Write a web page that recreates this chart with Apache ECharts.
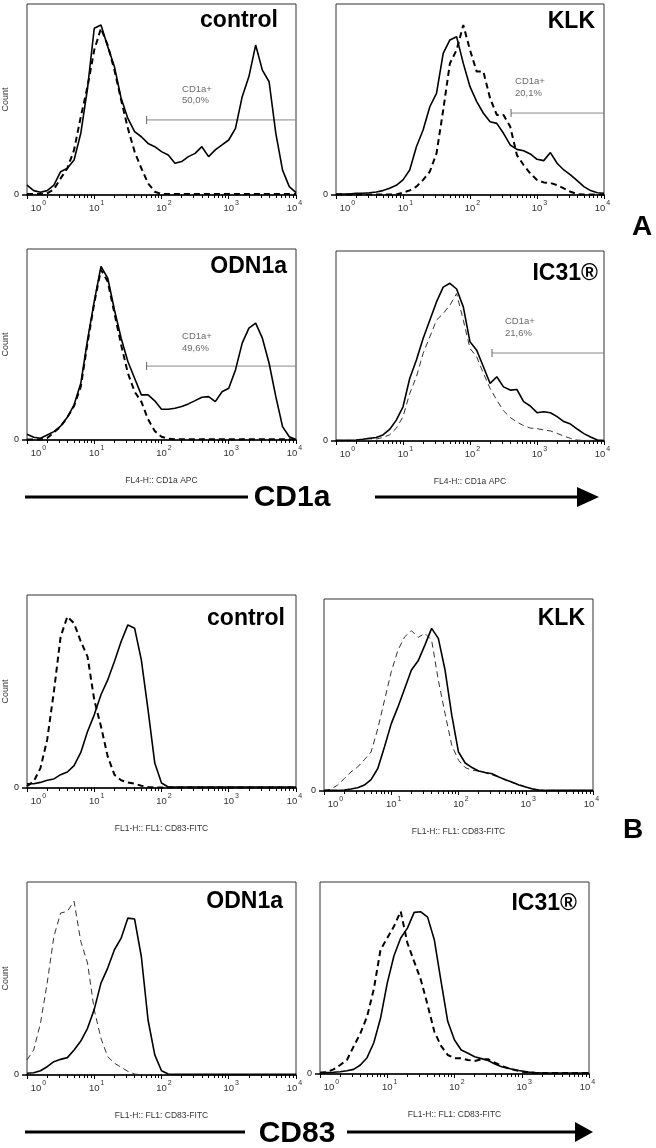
<!DOCTYPE html>
<html><head><meta charset="utf-8">
<script src="https://cdn.jsdelivr.net/npm/echarts@6/dist/echarts.min.js"></script>
<style>html,body{margin:0;padding:0;background:#fff}#c{width:656px;height:1148px}</style>
</head><body><div id="c"></div>
<script>
// ---- data ----
const X = [1, 1.259, 1.585, 1.995, 2.512, 3.162, 3.981, 5.012, 6.310, 7.943,
  10, 12.59, 15.85, 19.95, 25.12, 31.62, 39.81, 50.12, 63.10, 79.43,
  100, 125.9, 158.5, 199.5, 251.2, 316.2, 398.1, 501.2, 631.0, 794.3,
  1000, 1259, 1585, 1995, 2512, 3162, 3981, 5012, 6310, 7943, 10000];
const tickMajor = [1, 10, 100, 1000, 10000];
const tickMinor = [2,3,4,5,6,7,8,9,20,30,40,50,60,70,80,90,200,300,400,500,600,700,800,900,2000,3000,4000,5000,6000,7000,8000,9000];
const panelTitles = ['control','KLK','ODN1a','IC31®','control','KLK','ODN1a','IC31®'];

const aControlSolid = [5.2,2.3,1.4,2.3,5.2,12.2,14,18.3,32.3,55.8,87.3,89,77.7,67.2,50.6,40.1,33.2,30.5,27,25.3,22.7,20.9,16.6,17.5,20.1,21.8,25.3,20.1,23.6,26.2,28.8,34.9,51.5,62,78.5,65.4,59.3,32.3,13,4.4,1.2];
const aControlDash  = [0.5,0.5,0.5,0.9,3,8.7,14,23.6,41,56.7,75.9,87.3,78.5,65.4,49.7,34.9,22.7,14,6.1,1.7,0.5,0.5,0.5,0.5,0.5,0.5,0.5,0.5,0.5,0.5,0.5,0.5,0.5,0.5,0.5,0.5,0.5,0.5,0.5,0.5,0.5];
const aKlkSolid = [0.5,0.5,0.5,0.9,0.9,1.2,1.6,2.3,3.5,5.1,7.9,13.1,25.3,34,46.2,53.2,74.2,81.2,82.9,68.9,56.7,48.9,42.8,38.4,37.5,32.3,26.2,23.9,23.2,21.5,18.7,18,22.2,16.6,13.1,10.5,7.5,4.4,2.3,1.2,0.9];
const aKlkDash  = [0.3,0.3,0.3,0.3,0.3,0.3,0.3,0.3,0.3,0.3,1.2,2.4,4.4,7.9,12.2,21.8,44.5,68.9,75.9,89,75.9,64.6,64.6,50.6,41.9,41.9,35.8,20.9,15.7,11.3,7.9,6.6,6.3,5.2,3.5,1.7,0.5,0.3,0.3,0.3,0.3];
const aOdnSolid = [3,1.4,0.9,2.6,4.4,7.3,11.9,18.4,29.7,52.4,72.6,90.9,84.8,68.2,53.3,41.1,32.3,23.6,23.6,20.5,16.1,16.1,16.6,17.5,18.9,20.6,22.4,22.7,20.1,25.3,27.1,36.7,50.7,58.6,61.2,53.3,40.2,22.7,7,1.7,0.3];
const aOdnDash  = [0.3,0.3,0.3,1,4,7,11.9,17.8,28,50.7,71.7,89.2,83,66.4,49.8,35,25.3,20.1,10.8,4.7,1.7,0.7,0.4,0.4,0.4,0.4,0.4,0.4,0.4,0.4,0.4,0.4,0.4,0.4,0.4,0.4,0.4,0.4,0.4,0.4,0.4];
const aIcSolid = [0.4,0.4,0.4,0.5,0.9,1.4,1.8,3.2,6.1,11,18,32.9,42.6,53.9,63.6,73.2,81,83,80,70.6,52.2,47.8,39.1,30.3,33.8,28.5,26.8,27.1,20.7,18.4,14.9,15.4,14.9,12.8,10.2,8.9,6.3,3.9,2.1,0.5,0.2];
const aIcDash  = [0.3,0.3,0.3,0.3,0.3,0.3,1,1.9,3.2,6.7,12.8,25,33.8,46.1,54.8,63.6,67.1,71.5,77.6,63.6,48.7,44.3,35.6,27.7,21.5,15.9,12.4,10,8.1,6.8,6.5,5.8,5.3,4,2.6,1.4,0.5,0.3,0.3,0.3,0.3];
const bControlSolid = [2.2,2.2,2.9,4,4.7,6.9,8.3,11.6,18.4,29.3,37.9,48.3,56,65.5,75.9,84.5,82.8,66.4,40.5,12.9,2.6,0.5,0.5,0.5,0.5,0.5,0.5,0.5,0.5,0.5,0.5,0.5,0.5,0.5,0.5,0.5,0.5,0.5,0.5,0.5,0.5];
const bControlDash  = [1,3.4,10.3,25,50,78.4,88.8,85.3,75.9,68.1,45.7,31.9,16.4,6.9,4,2.9,2.2,1.2,0.5,0.3,0.3,0.3,0.3,0.3,0.3,0.3,0.3,0.3,0.3,0.3,0.3,0.3,0.3,0.3,0.3,0.3,0.3,0.3,0.3,0.3,0.3];
const bKlkSolid = [0.3,0.3,0.3,0.5,1,1.7,3.1,5.9,11.7,23,35.1,43.8,53.4,63,67.8,76,84.7,79.5,63,39.5,20.3,14.6,12.2,10.4,9.6,9,7.3,5.9,4.5,3.1,2.1,1,0.5,0.3,0.3,0.3,0.3,0.3,0.3,0.3,0.3];
const bKlkDash  = [0.3,0.9,3,6.4,9.9,12.5,16.3,20.3,32.5,47.3,62.1,73.4,80.3,83.5,80,82.1,78.6,57.7,40.3,23.8,16,12.2,10.8,10.4,9.4,8.3,7.3,5.6,4.3,3.5,2.1,1.2,0.5,0.3,0.3,0.3,0.3,0.3,0.3,0.3,0.3];
const bOdnSolid = [0.9,1.2,2.2,4.3,6.9,8.1,9,13,17.6,24.2,34,47.6,55.4,64.9,70.9,81.3,80.8,61.4,28.5,10.4,2.2,0.5,0.3,0.3,0.3,0.3,0.3,0.3,0.3,0.3,0.3,0.3,0.3,0.3,0.3,0.3,0.3,0.3,0.3,0.3,0.3];
const bOdnDash  = [7.8,13,26.8,47.6,71.8,83.9,84.8,90,69.2,58,33.7,19,9.5,6.1,4,1.9,0.5,0.2,0.2,0.2,0.2,0.2,0.2,0.2,0.2,0.2,0.2,0.2,0.2,0.2,0.2,0.2,0.2,0.2,0.2,0.2,0.2,0.2,0.2,0.2,0.2];
const bIcSolid = [0.7,0.7,0.9,1.2,1.7,2.4,4.7,8.5,16.3,29,47.3,61.6,70.8,76,84.2,84.5,81.7,69.9,48.2,27.3,17.7,12.5,10.8,9,8,7,5.2,3.8,3,2.1,1.6,1,0.7,0.5,0.5,0.5,0.5,0.5,0.5,0.5,0.5];
const bIcDash  = [0.7,1,2.4,4.7,7.3,14.3,21.2,29.9,44.2,64.7,70.8,76.9,84.7,68.2,58.6,49,36,22.1,14.6,9.9,8.2,8.2,7.3,6.8,7.7,7.7,5.9,4.2,3,2.1,1.2,0.9,0.5,0.5,0.5,0.5,0.5,0.5,0.5,0.5,0.5];

// CD1a+ gates (panels A only): start value, level (% of max), label
const gateStart = [60, 410, 60, 213];
const gateLevel = [39.3, 42.9, 38.7, 46.3];
const gateLabels = ['CD1a+\n50,0%', 'CD1a+\n20,1%', 'CD1a+\n49,6%', 'CD1a+\n21,6%'];

// ---- layout ----
const FONT = '"Liberation Sans", Arial, sans-serif';
const layout = [
  {left:27, top:4, width:269, height:191},
  {left:336, top:4, width:268, height:191},
  {left:27, top:249, width:269, height:191},
  {left:336, top:251, width:268, height:190},
  {left:27, top:595, width:269, height:193},
  {left:324, top:599, width:269, height:192},
  {left:27, top:882, width:269, height:193},
  {left:320, top:882, width:269, height:192}
];
const solids = [aControlSolid, aKlkSolid, aOdnSolid, aIcSolid, bControlSolid, bKlkSolid, bOdnSolid, bIcSolid];
const dashes = [aControlDash, aKlkDash, aOdnDash, aIcDash, bControlDash, bKlkDash, bOdnDash, bIcDash];
const dashThick = [true, true, true, false, true, false, false, true];
const showCount = [true, false, true, false, true, false, true, false];
const xNames = ['', '', 'FL4-H:: CD1a APC', 'FL4-H:: CD1a APC',
  'FL1-H:: FL1: CD83-FITC', 'FL1-H:: FL1: CD83-FITC', 'FL1-H:: FL1: CD83-FITC', 'FL1-H:: FL1: CD83-FITC'];
const gateTextPos = [[202, 52.4], [470, 56.3], [202, 51], [333, 59.7]];
const titlePos = [[278, 20.5], [595, 21.3], [287, 267], [598, 273.7], [285, 618.7], [585, 618.7], [283, 902], [577, 903.7]];

const grids = [], xAxes = [], yAxes = [], series = [];
layout.forEach((g, i) => {
  grids.push(Object.assign({show: true, borderColor: '#333', borderWidth: 1, containLabel: false, outerBoundsMode: 'none'}, g));
  xAxes.push({
    type: 'log', logBase: 10, min: 1, max: 10000, gridIndex: i, position: 'bottom',
    axisLine: {show: true, onZero: false, lineStyle: {color: '#000', width: 1.5}},
    axisTick: {show: true, customValues: tickMajor, length: 4, lineStyle: {color: '#000', width: 1}},
    splitLine: {show: false},
    axisLabel: {
      customValues: tickMajor, margin: 5, color: '#333', fontFamily: FONT,
      formatter: function (v) {
        const e = Math.round(Math.log10(v));
        const pre = e === 0 ? '{p0|}' : (e === 4 ? '' : '{p1|}');
        return pre + '{b|10}{s|' + e + '}' + (e === 4 ? '{q|}' : '');
      },
      rich: {
        b: {fontSize: 9.5, lineHeight: 13, verticalAlign: 'bottom', color: '#333', fontFamily: FONT},
        s: {fontSize: 7, lineHeight: 4, verticalAlign: 'top', color: '#333', fontFamily: FONT, padding: [0, 0, 0, 1]},
        p0: {width: 23},
        p1: {width: 5},
        q: {width: 3}
      }
    },
    name: xNames[i], nameLocation: 'middle', nameGap: 36,
    nameTextStyle: {fontSize: 8.5, color: '#333', fontFamily: FONT}
  });
  xAxes.push({
    type: 'log', logBase: 10, min: 1, max: 10000, gridIndex: i, position: 'bottom',
    axisLine: {show: false},
    axisTick: {show: true, customValues: tickMinor, length: 3, lineStyle: {color: '#000', width: 1}},
    axisLabel: {show: false}, splitLine: {show: false}
  });
  yAxes.push({
    type: 'value', min: 0, max: 100, gridIndex: i,
    axisLine: {show: false},
    axisTick: {show: true, customValues: [0], length: 5, lineStyle: {color: '#000', width: 1.5}},
    axisLabel: {customValues: [0], margin: 8, fontSize: 9, color: '#222', fontFamily: FONT},
    splitLine: {show: false},
    name: showCount[i] ? 'Count' : '', nameLocation: 'middle', nameRotate: 90, nameGap: 8,
    nameTextStyle: {fontSize: 9, color: '#333', fontFamily: FONT}
  });
  series.push({
    type: 'line', xAxisIndex: 2 * i, yAxisIndex: i, symbol: 'none', silent: true, z: 3,
    data: X.map((x, k) => [x, dashes[i][k]]),
    lineStyle: {color: dashThick[i] ? '#000' : '#333', width: dashThick[i] ? 2 : 1, type: [6, 4]}
  });
  series.push({
    type: 'line', xAxisIndex: 2 * i, yAxisIndex: i, symbol: 'none', silent: true, z: 4,
    data: X.map((x, k) => [x, solids[i][k]]),
    lineStyle: {color: '#000', width: 1.6}
  });
  if (i < 4) {
    series.push({
      type: 'line', xAxisIndex: 2 * i, yAxisIndex: i, silent: true, z: 2,
      data: [
        {value: [gateStart[i], gateLevel[i]], symbol: 'rect', symbolSize: [1, 8]},
        {value: [10000, gateLevel[i]], symbol: 'none'}
      ],
      showSymbol: true,
      itemStyle: {color: '#666'},
      lineStyle: {color: '#888', width: 1}
    });
    series.push({
      type: 'scatter', xAxisIndex: 2 * i, yAxisIndex: i, silent: true, symbolSize: 0,
      data: [gateTextPos[i]],
      label: {show: true, position: 'right', distance: 0, formatter: gateLabels[i],
        fontSize: 9.5, lineHeight: 11.5, color: '#444', fontFamily: FONT}
    });
  }
});

const graphics = [];
panelTitles.forEach((t, i) => {
  graphics.push({type: 'text', x: titlePos[i][0], y: titlePos[i][1],
    style: {text: t, align: 'right', verticalAlign: 'middle', fill: '#000', font: 'bold 23px ' + FONT}});
});
graphics.push({type: 'text', x: 642, y: 227, style: {text: 'A', align: 'center', verticalAlign: 'middle', fill: '#000', font: 'bold 28px ' + FONT}});
graphics.push({type: 'text', x: 633, y: 830, style: {text: 'B', align: 'center', verticalAlign: 'middle', fill: '#000', font: 'bold 28px ' + FONT}});
// CD1a arrow row
graphics.push({type: 'line', shape: {x1: 25, y1: 497, x2: 248, y2: 497}, style: {stroke: '#000', lineWidth: 3}});
graphics.push({type: 'text', x: 292, y: 497.5, style: {text: 'CD1a', align: 'center', verticalAlign: 'middle', fill: '#000', font: 'bold 30px ' + FONT}});
graphics.push({type: 'line', shape: {x1: 375, y1: 497, x2: 580, y2: 497}, style: {stroke: '#000', lineWidth: 3}});
graphics.push({type: 'polygon', shape: {points: [[577, 487], [599, 497], [577, 507]]}, style: {fill: '#000'}});
// CD83 arrow row
graphics.push({type: 'line', shape: {x1: 25, y1: 1132, x2: 245, y2: 1132}, style: {stroke: '#000', lineWidth: 3}});
graphics.push({type: 'text', x: 297, y: 1133.5, style: {text: 'CD83', align: 'center', verticalAlign: 'middle', fill: '#000', font: 'bold 30px ' + FONT}});
graphics.push({type: 'line', shape: {x1: 347, y1: 1132, x2: 578, y2: 1132}, style: {stroke: '#000', lineWidth: 3}});
graphics.push({type: 'polygon', shape: {points: [[575, 1122], [593, 1132], [575, 1142]]}, style: {fill: '#000'}});

const chart = echarts.init(document.getElementById('c'), null, {renderer: 'canvas'});
chart.setOption({
  animation: false,
  backgroundColor: '#fff',
  textStyle: {fontFamily: FONT},
  grid: grids, xAxis: xAxes, yAxis: yAxes, series: series,
  graphic: graphics
});
</script></body></html>
